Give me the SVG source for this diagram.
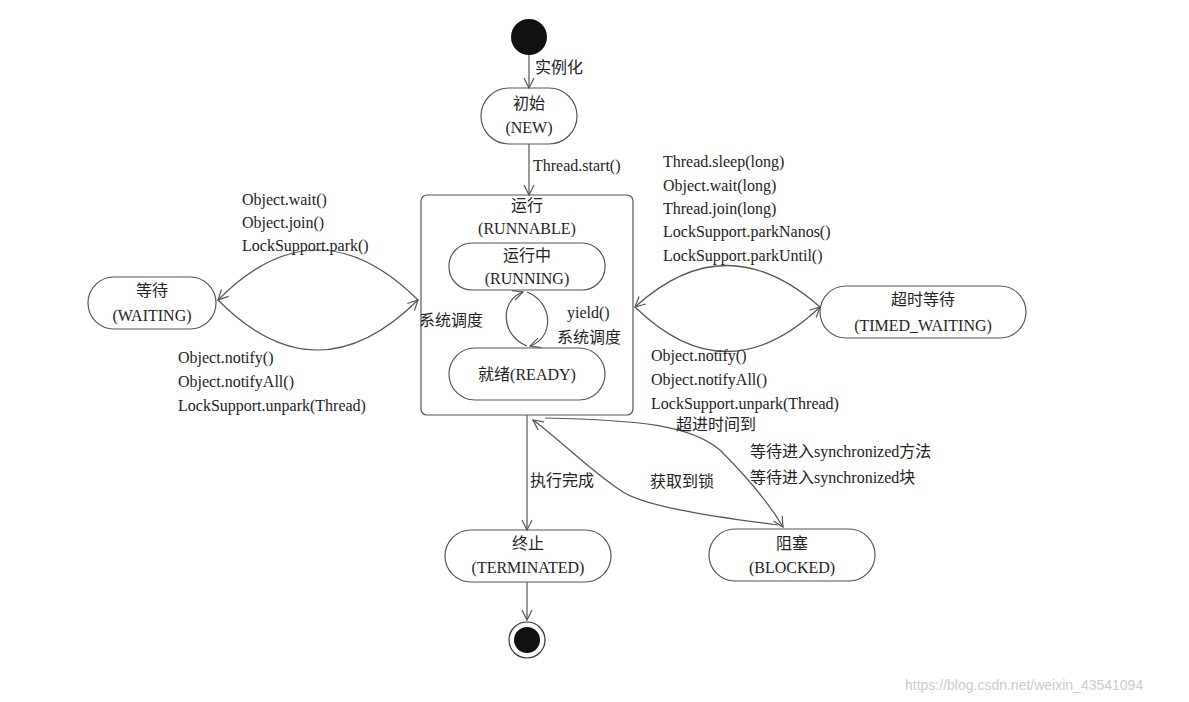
<svg xmlns="http://www.w3.org/2000/svg" width="1189" height="702" viewBox="0 0 1189 702">
<style>
text{font-family:"Liberation Serif","Noto Sans CJK SC",serif;font-size:16px;fill:#222}
.c{text-anchor:middle}
.n{fill:#fff;stroke:#555;stroke-width:1.2}
.e{fill:none;stroke:#555;stroke-width:1.2}
</style>
<defs><marker id="a" viewBox="0 0 12 12" refX="11" refY="6" markerWidth="12" markerHeight="12" orient="auto" markerUnits="userSpaceOnUse"><path d="M1,1 L11,6 L1,11" fill="none" stroke="#555" stroke-width="1.2"/></marker></defs>
<rect width="1189" height="702" fill="#fff"/>
<g id="start"><circle cx="529" cy="37" r="18" fill="#111"/></g>
<g id="new"><rect class="n" x="481" y="88" width="96" height="56" rx="28"/><text class="c" x="529" y="109">初始</text><text class="c" x="529" y="133">(NEW)</text></g>
<g id="runnable"><rect class="n" x="421" y="195" width="212" height="220" rx="6"/><text class="c" x="527" y="211">运行</text><text class="c" x="527" y="234">(RUNNABLE)</text></g>
<g id="running"><rect class="n" x="449" y="243" width="156" height="47" rx="23"/><text class="c" x="527" y="261">运行中</text><text class="c" x="527" y="284">(RUNNING)</text></g>
<g id="ready"><rect class="n" x="449" y="348" width="156" height="52" rx="26"/><text class="c" x="527" y="380">就绪(READY)</text></g>
<g id="waiting"><rect class="n" x="88" y="277" width="128" height="52" rx="26"/><text class="c" x="152" y="296">等待</text><text class="c" x="152" y="321">(WAITING)</text></g>
<g id="timed"><rect class="n" x="820" y="286" width="206" height="52" rx="26"/><text class="c" x="923" y="305">超时等待</text><text class="c" x="923" y="331">(TIMED_WAITING)</text></g>
<g id="terminated"><rect class="n" x="445" y="530" width="166" height="52" rx="26"/><text class="c" x="528" y="549">终止</text><text class="c" x="528" y="573">(TERMINATED)</text></g>
<g id="blocked"><rect class="n" x="709" y="529" width="166" height="52" rx="26"/><text class="c" x="792" y="549">阻塞</text><text class="c" x="792" y="573">(BLOCKED)</text></g>
<g id="end"><circle cx="527" cy="640" r="18" fill="#fff" stroke="#333" stroke-width="1.2"/><circle cx="527" cy="640" r="13" fill="#111"/></g>
<g id="connectors">
<path class="e" d="M529,55 V88" marker-end="url(#a)"/>
<path class="e" d="M529,144 V195" marker-end="url(#a)"/>
<path class="e" d="M527,346 C500,335 500,300 523,292" marker-end="url(#a)"/>
<path class="e" d="M527,292 C554,303 554,338 530,346" marker-end="url(#a)"/>
<path class="e" d="M418,300 Q317,200 218,300" marker-end="url(#a)"/>
<path class="e" d="M218,300 Q317,400 418,300" marker-end="url(#a)"/>
<path class="e" d="M820,307 Q726,224 635,307" marker-end="url(#a)"/>
<path class="e" d="M635,307 Q726,396 820,307" marker-end="url(#a)"/>
<path class="e" d="M527,415 V530" marker-end="url(#a)"/>
<path class="e" d="M527,582 V620" marker-end="url(#a)"/>
<path class="e" d="M545,418 C640,420 690,425 720,450 C750,480 770,505 783,527" marker-end="url(#a)"/>
<path class="e" d="M778,525 C700,515 640,505 620,490 C590,470 560,440 533,420" marker-end="url(#a)"/>
</g>
<g id="labels">
<text x="535" y="73">实例化</text>
<text x="533" y="171">Thread.start()</text>
<text x="419" y="326">系统调度</text>
<text x="567" y="318">yield()</text>
<text x="557" y="343">系统调度</text>
<text x="242" y="205">Object.wait()</text>
<text x="242" y="228">Object.join()</text>
<text x="242" y="251">LockSupport.park()</text>
<text x="178" y="363">Object.notify()</text>
<text x="178" y="387">Object.notifyAll()</text>
<text x="178" y="411">LockSupport.unpark(Thread)</text>
<text x="663" y="167">Thread.sleep(long)</text>
<text x="663" y="191">Object.wait(long)</text>
<text x="663" y="214">Thread.join(long)</text>
<text x="663" y="237">LockSupport.parkNanos()</text>
<text x="663" y="261">LockSupport.parkUntil()</text>
<text x="651" y="361">Object.notify()</text>
<text x="651" y="385">Object.notifyAll()</text>
<text x="651" y="409">LockSupport.unpark(Thread)</text>
<text x="676" y="430">超进时间到</text>
<text x="750" y="457">等待进入synchronized方法</text>
<text x="750" y="483">等待进入synchronized块</text>
<text x="530" y="486">执行完成</text>
<text x="650" y="487">获取到锁</text>
<text x="905" y="690" style="fill:#ccc;font-family:'Liberation Sans',sans-serif;font-size:14px">https://blog.csdn.net/weixin_43541094</text>
</g>
</svg>
